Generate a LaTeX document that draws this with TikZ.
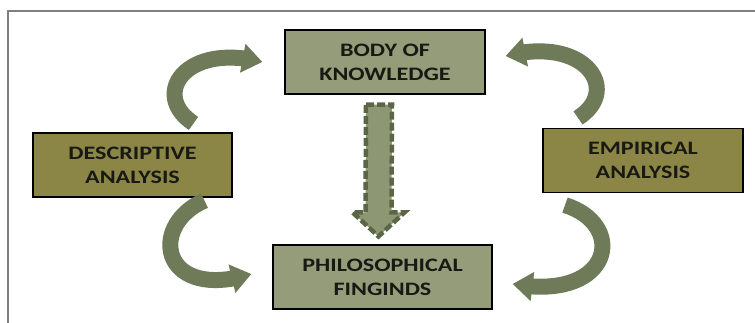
\documentclass[tikz,border=0pt]{standalone}
\usepackage{fontspec}
\newfontfamily\boxfont{Carlito}[FakeStretch=1.27]
\usetikzlibrary{arrows.meta,bending,calc}
\definecolor{boxgreen}{RGB}{148,156,121}
\definecolor{boxolive}{RGB}{139,134,70}
\definecolor{arrowgreen}{RGB}{110,122,88}
\definecolor{dashgreen}{RGB}{90,102,70}
\definecolor{dashfill}{RGB}{142,151,116}
\definecolor{framegray}{RGB}{128,128,128}
\definecolor{textdark}{RGB}{25,25,20}
\tikzset{
  boxbase/.style={draw=black, line width=1.2pt, minimum height=64pt, align=center,
    text=textdark, font=\boxfont\bfseries\fontsize{19}{24}\selectfont, inner sep=0pt},
  greenbox/.style={boxbase, fill=boxgreen, minimum width=200pt},
  olivebox/.style={boxbase, fill=boxolive, minimum width=200pt},
  curvearrow/.style={draw=arrowgreen, line width=16pt,
    -{Triangle[length=20pt,width=28pt,flex]}},
  dasharrow/.style={draw=dashgreen, fill=dashfill, line width=4.5pt, dash pattern=on 8pt off 3pt}
}
\begin{document}
\begin{tikzpicture}[x=1pt,y=-1pt]
\useasboundingbox (0,0) rectangle (755,323);
\draw[framegray, line width=2pt] (8,323) -- (8,11) -- (755,11);

\node[greenbox] (body) at (385,62) {BODY OF\\KNOWLEDGE};
\node[greenbox, minimum width=219pt] (phil) at (382.5,277) {PHILOSOPHICAL\\FINGINDS};
\node[olivebox, minimum width=199pt] (desc) at (132.5,165) {DESCRIPTIVE\\ANALYSIS};
\node[olivebox] (emp) at (643,160.5) {EMPIRICAL\\ANALYSIS};

% curved arrows
\draw[curvearrow] ([shift={(61,-9)}]desc.north) .. controls (150,95) and (185,42) .. ([shift={(-22,0)}]body.west);
\draw[curvearrow] ([shift={(-65,-10)}]emp.north) .. controls (622,90) and (585,35) .. ([shift={(20,-6)}]body.east);
\draw[curvearrow] ([shift={(72,3)}]desc.south) .. controls (148,225) and (160,302) .. ([shift={(-21,-3)}]phil.west);
\draw[curvearrow] ([shift={(-78,12)}]emp.south) .. controls (628,225) and (612,302) .. ([shift={(20,7)}]phil.east);

% dashed down arrow
\coordinate (a1) at ([shift={(-6,10)}]body.south);
\coordinate (a2) at ([shift={(-4,-8)}]phil.north);
\draw[dasharrow] ([xshift=-13pt]a1) -- ([xshift=13pt]a1) -- ($(a2)+(13,-24)$) -- ($(a2)+(26,-24)$)
  -- (a2) -- ($(a2)+(-26,-24)$) -- ($(a2)+(-13,-24)$) -- cycle;
\end{tikzpicture}
\end{document}
